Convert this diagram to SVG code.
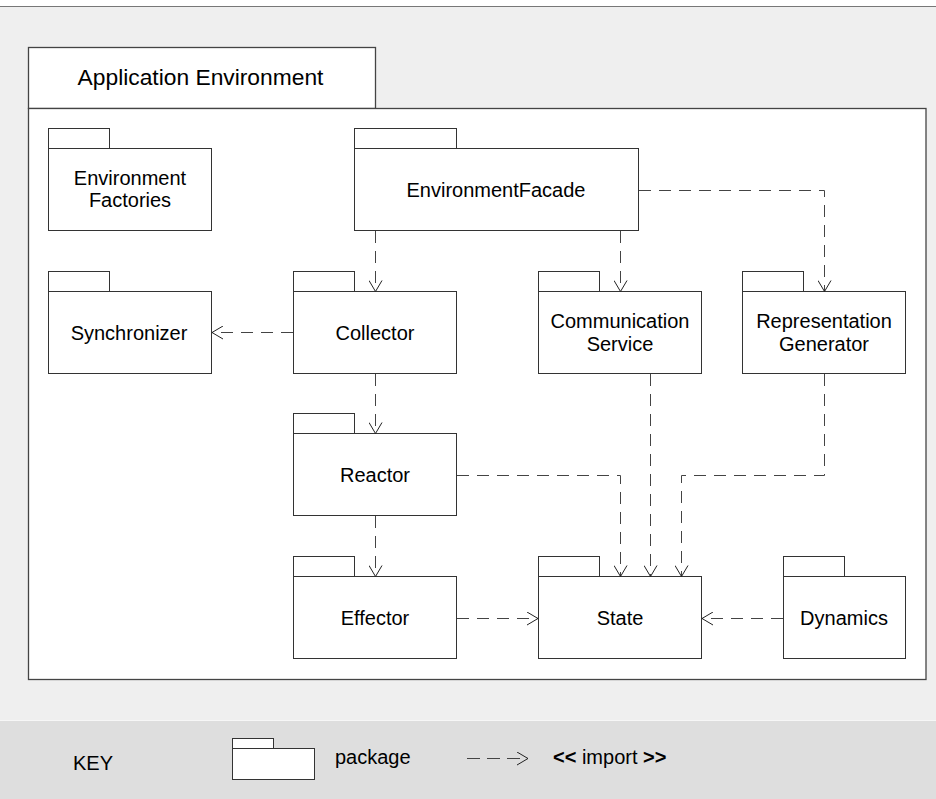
<svg xmlns="http://www.w3.org/2000/svg" width="936" height="799" viewBox="0 0 936 799">
  <style>
    text { font-family: "Liberation Sans", Arial, sans-serif; fill: #000; }
    .lbl { font-size: 20px; text-anchor: middle; }
    .pkg rect { fill: #fff; stroke: #333; stroke-width: 1; }
    .dep { fill: none; stroke: #444; stroke-width: 1; stroke-dasharray: 12 8; marker-end: url(#open); }
  </style>
  <defs>
    <!-- open "V" arrowhead for import dependencies -->
    <marker id="open" viewBox="0 0 12 14" refX="11.5" refY="7" markerWidth="12" markerHeight="14" markerUnits="userSpaceOnUse" orient="auto">
      <path d="M0.5,0.5 L11.5,7 L0.5,13.5" fill="none" stroke="#222" stroke-width="1" stroke-dasharray="none"/>
    </marker>
  </defs>

  <!-- page background -->
  <rect x="0" y="0" width="936" height="799" fill="#fff"/>
  <rect x="0" y="6.5" width="936" height="714" fill="#efefef"/>
  <line x1="0" y1="6.5" x2="936" y2="6.5" stroke="#777" stroke-width="1.2"/>

  <!-- outer package frame -->
  <g id="application-environment">
    <rect x="28.5" y="47.5" width="347" height="61" fill="#fff" stroke="#444" stroke-width="1.3"/>
    <rect x="28.5" y="108.5" width="897.5" height="571" fill="#fff" stroke="#444" stroke-width="1.3"/>
    <text x="200.5" y="85" font-size="22.8" text-anchor="middle">Application Environment</text>
  </g>

  <!-- packages -->
  <g id="environment-factories" class="pkg">
    <rect x="48.5" y="128.5" width="61" height="20"/>
    <rect x="48.5" y="148.5" width="163" height="82"/>
    <text class="lbl" x="130" y="185">Environment</text>
    <text class="lbl" x="130" y="207">Factories</text>
  </g>
  <g id="environment-facade" class="pkg">
    <rect x="354.5" y="128.5" width="102" height="20"/>
    <rect x="354.5" y="148.5" width="284" height="82"/>
    <text class="lbl" x="496" y="197">EnvironmentFacade</text>
  </g>
  <g id="synchronizer" class="pkg">
    <rect x="48.5" y="271.5" width="61" height="20"/>
    <rect x="48.5" y="291.5" width="163" height="82"/>
    <text class="lbl" x="129" y="340">Synchronizer</text>
  </g>
  <g id="collector" class="pkg">
    <rect x="293.5" y="271.5" width="61" height="20"/>
    <rect x="293.5" y="291.5" width="163" height="82"/>
    <text class="lbl" x="375" y="340">Collector</text>
  </g>
  <g id="communication-service" class="pkg">
    <rect x="538.5" y="271.5" width="61" height="20"/>
    <rect x="538.5" y="291.5" width="163" height="82"/>
    <text class="lbl" x="620" y="328">Communication</text>
    <text class="lbl" x="620" y="351">Service</text>
  </g>
  <g id="representation-generator" class="pkg">
    <rect x="742.5" y="271.5" width="61" height="20"/>
    <rect x="742.5" y="291.5" width="163" height="82"/>
    <text class="lbl" x="824" y="328">Representation</text>
    <text class="lbl" x="824" y="351">Generator</text>
  </g>
  <g id="reactor" class="pkg">
    <rect x="293.5" y="413.5" width="61" height="20"/>
    <rect x="293.5" y="433.5" width="163" height="82"/>
    <text class="lbl" x="375" y="482">Reactor</text>
  </g>
  <g id="effector" class="pkg">
    <rect x="293.5" y="556.5" width="61" height="20"/>
    <rect x="293.5" y="576.5" width="163" height="82"/>
    <text class="lbl" x="375" y="625">Effector</text>
  </g>
  <g id="state" class="pkg">
    <rect x="538.5" y="556.5" width="61" height="20"/>
    <rect x="538.5" y="576.5" width="163" height="82"/>
    <text class="lbl" x="620" y="625">State</text>
  </g>
  <g id="dynamics" class="pkg">
    <rect x="783.5" y="556.5" width="61" height="20"/>
    <rect x="783.5" y="576.5" width="122" height="82"/>
    <text class="lbl" x="844" y="625">Dynamics</text>
  </g>

  <!-- import dependencies -->
  <g id="connectors">
    <path class="dep" d="M375.5,231 V291.5"/>
    <path class="dep" d="M620.5,231 V291.5"/>
    <path class="dep" d="M639,190.5 H824.5 V291.5"/>
    <path class="dep" d="M293,332.5 H212"/>
    <path class="dep" d="M375.5,374 V433.5"/>
    <path class="dep" d="M375.5,516 V576.5"/>
    <path class="dep" d="M457,475.5 H620.5 V576.5"/>
    <path class="dep" d="M650.5,374 V576.5"/>
    <path class="dep" d="M824.5,374 V475.5 H681.5 V576.5"/>
    <path class="dep" d="M457,618.5 H538"/>
    <path class="dep" d="M783,618.5 H702"/>
  </g>

  <!-- legend -->
  <g id="key">
    <rect x="0" y="720" width="936" height="79" fill="#dedede"/>
    <line x1="0" y1="720.5" x2="936" y2="720.5" stroke="#f7f7f7" stroke-width="1"/>
    <text x="73" y="770" font-size="20">KEY</text>
    <g class="pkg">
      <rect x="232.5" y="738.5" width="41" height="10"/>
      <rect x="232.5" y="748.5" width="82" height="31"/>
    </g>
    <text x="335" y="764" font-size="20">package</text>
    <path class="dep" d="M467,758.5 H528" style="stroke-dasharray: 13 7"/>
    <text x="553" y="764" font-size="20"><tspan font-weight="bold">&lt;&lt;</tspan> import <tspan font-weight="bold">&gt;&gt;</tspan></text>
  </g>
</svg>
